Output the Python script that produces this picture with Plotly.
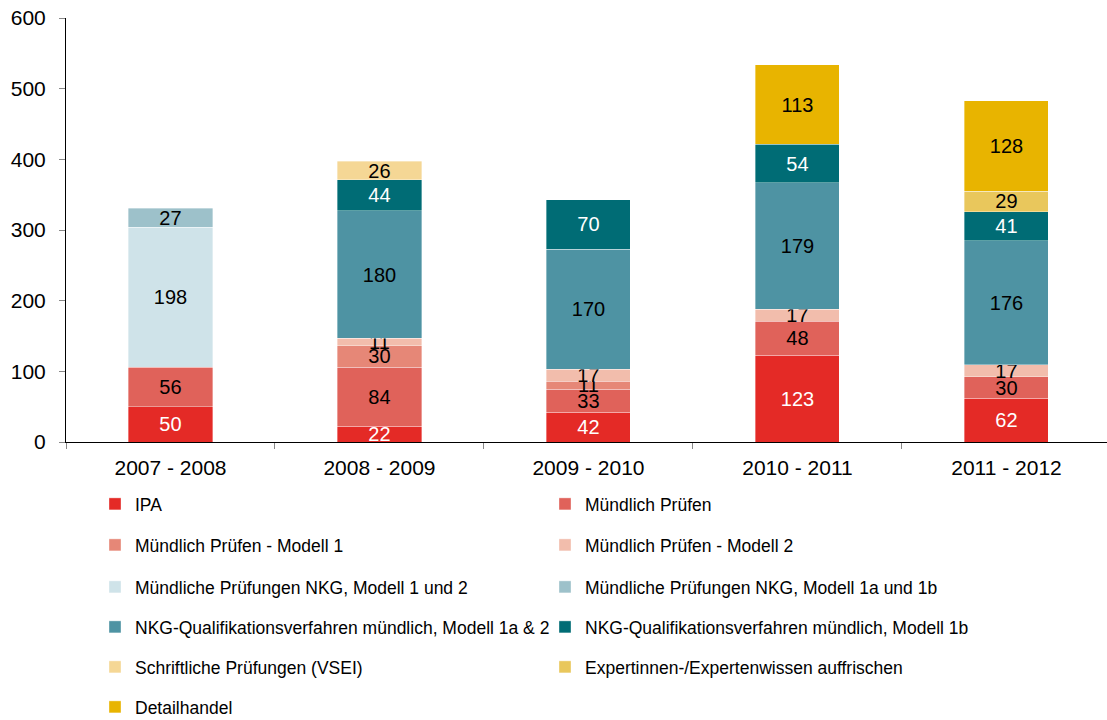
import plotly.graph_objects as go

categories = ["2007 - 2008", "2008 - 2009", "2009 - 2010", "2010 - 2011", "2011 - 2012"]

series_names = [
    "IPA",
    "Mündlich Prüfen",
    "Mündlich Prüfen - Modell 1",
    "Mündlich Prüfen - Modell 2",
    "Mündliche Prüfungen NKG, Modell 1 und 2",
    "Mündliche Prüfungen NKG, Modell 1a und 1b",
    "NKG-Qualifikationsverfahren mündlich, Modell 1a & 2",
    "NKG-Qualifikationsverfahren mündlich, Modell 1b",
    "Schriftliche Prüfungen (VSEI)",
    "Expertinnen-/Expertenwissen auffrischen",
    "Detailhandel",
]

ipa = [50, 22, 42, 123, 62]
muendlich = [56, 84, 33, 48, 30]
modell1 = [None, 30, 11, None, None]
modell2 = [None, 11, 17, 17, 17]
nkg_1_2 = [198, None, None, None, None]
nkg_1a_1b = [27, None, None, None, None]
nkgq_1a_2 = [None, 180, 170, 179, 176]
nkgq_1b = [None, 44, 70, 54, 41]
schriftlich = [None, 26, None, None, None]
experten = [None, None, None, None, 29]
detailhandel = [None, None, None, 113, 128]

series_values = [ipa, muendlich, modell1, modell2, nkg_1_2, nkg_1a_1b,
                 nkgq_1a_2, nkgq_1b, schriftlich, experten, detailhandel]

colors = ["#E42A26", "#E0625A", "#E68777", "#F2BDAC", "#CFE3E9", "#9DC1CA",
          "#4E93A3", "#006C75", "#F5D795", "#E9C75C", "#E8B400"]
text_colors = ["white", "black", "black", "black", "black", "black",
               "black", "white", "black", "black", "black"]

FONT = "Arial, Liberation Sans, sans-serif"

fig = go.Figure()
for i, (name, vals, col, tcol) in enumerate(zip(series_names, series_values, colors, text_colors)):
    legend_id = "legend" if i // 2 == 0 else f"legend{i // 2 + 1}"
    fig.add_trace(go.Bar(
        name=name,
        x=categories,
        y=vals,
        marker=dict(color=col, line=dict(width=0.6, color="rgba(255,255,255,0.6)")),
        texttemplate="%{y}",
        textposition="inside",
        insidetextanchor="middle",
        textangle=0,
        constraintext="none",
        textfont=dict(family=FONT, size=20, color=tcol),
        legend=legend_id,
    ))

W, H = 1107, 720
ML, MR, MT, MB = 66, 0, 18, 278
plot_w = W - ML - MR
plot_h = H - MT - MB

row_y = [504, 545, 587, 627, 667, 707]
legend_left_px = 95

layout_legends = {}
for r, py in enumerate(row_y):
    key = "legend" if r == 0 else f"legend{r + 1}"
    layout_legends[key] = dict(
        orientation="h",
        x=(legend_left_px - ML) / plot_w,
        xanchor="left",
        y=(H - MB - py) / plot_h,
        yanchor="middle",
        entrywidth=405,
        font=dict(family=FONT, size=17.5, color="black"),
        bgcolor="rgba(0,0,0,0)",
        traceorder="normal",
    )

fig.update_layout(
    width=W, height=H,
    margin=dict(l=ML, r=MR, t=MT, b=MB, pad=0, autoexpand=False),
    barmode="stack",
    bargap=0.598,
    plot_bgcolor="white",
    paper_bgcolor="white",
    font=dict(family=FONT, size=20, color="black"),
    showlegend=True,
    **layout_legends,
)

fig.update_xaxes(
    type="category",
    range=[-0.5, 4.481],
    showline=True, linecolor="black", linewidth=1,
    ticks="outside", tickson="boundaries", ticklen=6, tickcolor="#888888",
    ticklabelstandoff=7,
    tickfont=dict(family=FONT, size=21, color="black"),
    showgrid=False, zeroline=False, automargin=False,
)
fig.update_yaxes(
    range=[0, 600],
    tickvals=[0, 100, 200, 300, 400, 500, 600],
    showline=True, linecolor="black", linewidth=1,
    ticks="outside", ticklen=6, tickcolor="#888888",
    ticklabelstandoff=9,
    tickfont=dict(family=FONT, size=21, color="black"),
    showgrid=False, zeroline=False, automargin=False,
)

fig.write_html("out.html", post_script="document.body.style.margin='0';",
               config={"displayModeBar": False})
